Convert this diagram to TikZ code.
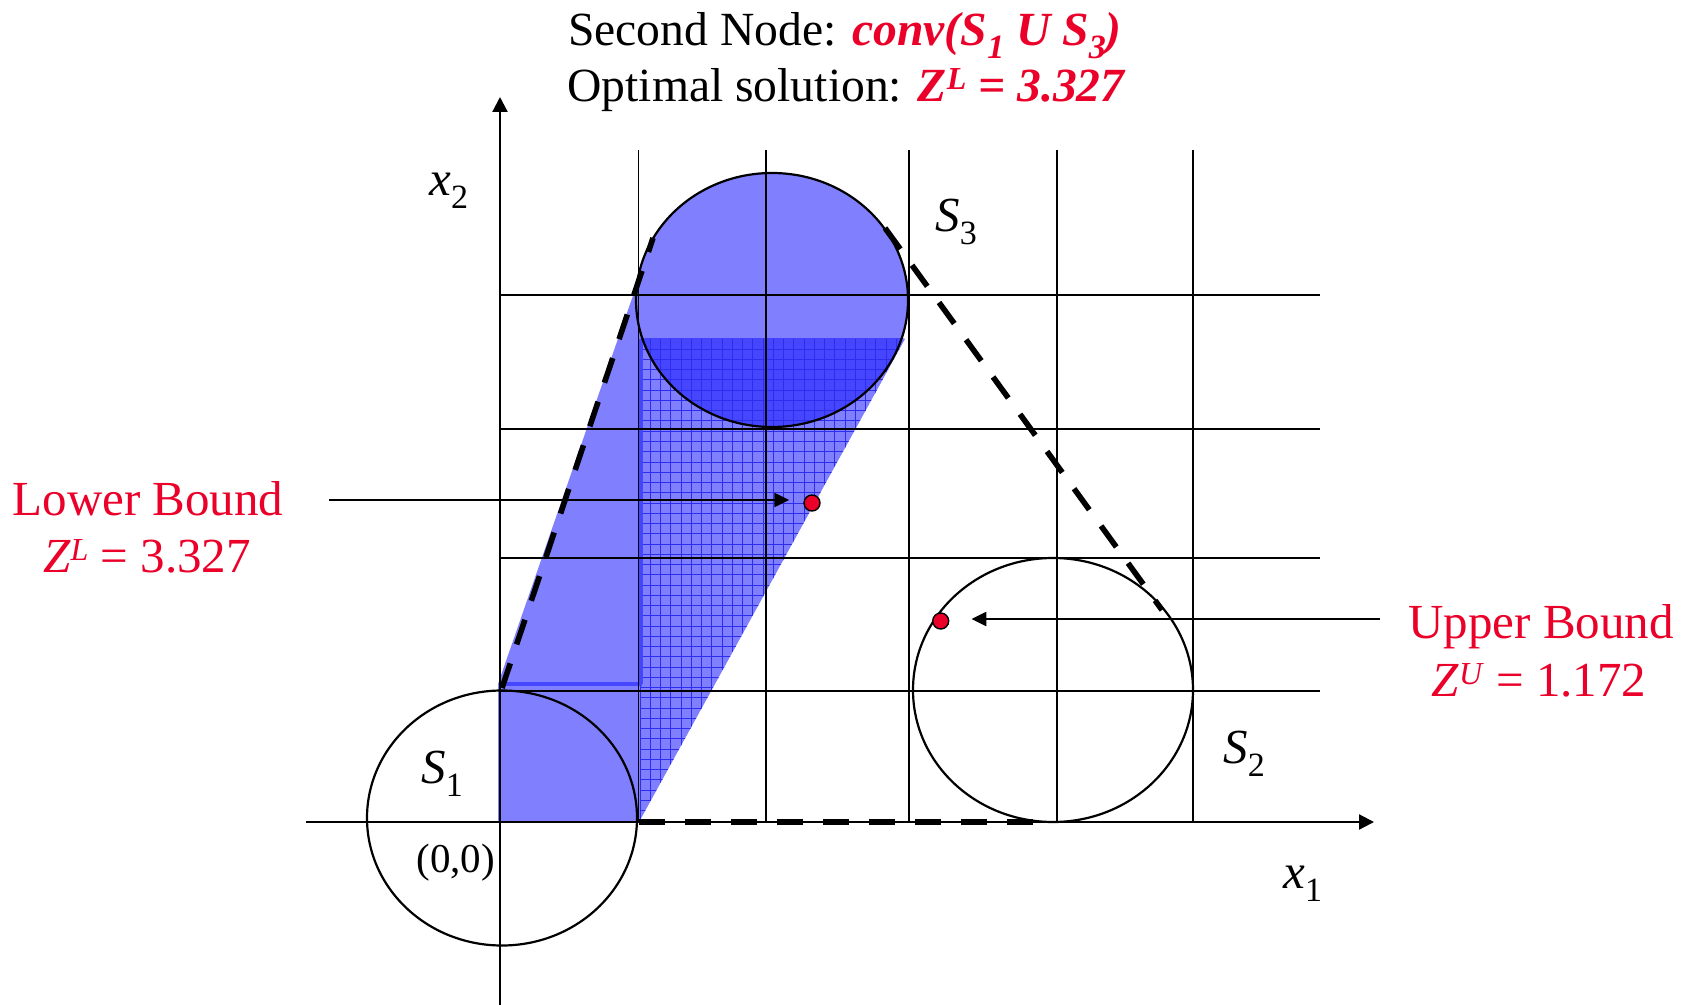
\documentclass[tikz,border=0pt]{standalone}
\usepackage{fontspec}
\setmainfont{Liberation Serif}
\usetikzlibrary{arrows.meta}
\definecolor{zred}{RGB}{234,0,41}
\definecolor{lightblu}{RGB}{128,128,255}
\definecolor{darkblu}{RGB}{70,70,255}
\definecolor{hatchblu}{RGB}{45,45,238}
\newcommand{\lsub}[1]{\raisebox{-6.5pt}{\fontsize{17}{17}\selectfont #1}}
\newcommand{\lsup}[1]{\raisebox{6pt}{\fontsize{16}{16}\selectfont #1}}
\begin{document}
\begin{tikzpicture}[x=0.5pt,y=-0.5pt,
  gridline/.style={line width=0.9pt},
  axisline/.style={line width=1.1pt,-{Triangle[length=7.5pt,width=7.5pt]}},
  thickdash/.style={line width=2.8pt,dash pattern=on 13pt off 10pt},
  ring/.style={line width=1.1pt},
  boundarrow/.style={line width=1.15pt,-{Triangle[length=7.5pt,width=7pt]}},
  zdot/.style={circle,fill=zred,draw=black,line width=0.7pt,minimum size=8pt,inner sep=0pt},
  lbl/.style={inner sep=0pt,font=\fontsize{24.5}{28}\selectfont},
  ttl/.style={inner sep=0pt,font=\fontsize{23.8}{28}\selectfont},
  small/.style={inner sep=0pt,font=\fontsize{20.5}{24}\selectfont}]
\useasboundingbox (0,0) rectangle (1686,1005);
% light blue hull
\fill[lightblu] (498,822) rectangle (640,683);
\fill[lightblu] (498,684) -- (653,238) -- (772,300) -- (905,339) -- (639,822) -- (498,822) -- cycle;
\fill[lightblu] (772,300) ellipse [x radius=136, y radius=127];
% darker overlap
\begin{scope}
  \clip (600,339) rectangle (920,440);
  \fill[darkblu] (772,300) ellipse [x radius=136, y radius=127];
\end{scope}
% hatch
\begin{scope}
  \clip (640,339) -- (905,339) -- (639,822) -- cycle;
  \foreach \i in {0,...,27} {
    \draw[hatchblu,line width=0.5pt] ({640+10.25*\i},339) -- ({640+10.25*\i},822);
  }
  \foreach \i in {0,...,48} {
    \draw[hatchblu,line width=0.5pt] (640,{339+10.25*\i}) -- (910,{339+10.25*\i});
  }
\end{scope}
\draw[darkblu,line width=2pt] (641,339) -- (641,684);
\draw[darkblu,line width=2pt] (500,684) -- (642,684);
% grid
\foreach \gx in {638.5,766,909,1057,1193} {
  \draw[gridline] (\gx,150) -- (\gx,822);
}
\foreach \gy in {295,429,558,691} {
  \draw[gridline] (500,\gy) -- (1320,\gy);
}
% axes
\coordinate (x1start) at (306,822);
\coordinate (x1end) at (1374,822);
\coordinate (x2start) at (500,1005);
\coordinate (x2end) at (500,97);
\draw[axisline] (x1start) -- (x1end);
\draw[axisline] (x2start) -- (x2end);
% circles
\draw[ring] (502,818) ellipse [x radius=135, y radius=127.5];
\draw[ring] (772,300) ellipse [x radius=136, y radius=127];
\draw[ring] (1053,690) ellipse [x radius=140, y radius=132];
% dashed hull edges
\coordinate (d1a) at (502,688);
\coordinate (d1b) at (653,238);
\coordinate (d2a) at (885,228);
\coordinate (d2b) at (1162,610);
\coordinate (d3a) at (639,822);
\coordinate (d3b) at (1038,822);
\draw[thickdash] (d1a) -- (d1b);
\draw[thickdash] (d2a) -- (d2b);
\draw[thickdash] (d3a) -- (d3b);
% bounds
\node[zdot] (lbdot) at (812,503) {};
\node[zdot] (ubdot) at (940.7,621) {};
\coordinate (lbtail) at (329,500);
\coordinate (ubtail) at (1380,619);
\draw[boundarrow] (lbtail) -- ([xshift=-7pt]lbdot.west |- lbtail);
\draw[boundarrow] (ubtail) -- ([xshift=11pt]ubdot.east |- ubtail);
% texts
\node[ttl,anchor=base] (title1) at (845,46) {Second Node: \textcolor{zred}{\bfseries\itshape conv(S\lsub{1} U S\lsub{3})}};
\node[ttl,anchor=base] (title2) at (846,102) {Optimal solution: \textcolor{zred}{\bfseries\itshape Z\lsup{L} = 3.327}};
\node[lbl,anchor=base,text=zred] (lbtext) at (148,515) {Lower Bound};
\node[lbl,anchor=base,text=zred] (lbval) at (147,572) {\textit{Z}\lsup{\textit{L}} = 3.327};
\node[lbl,anchor=base,text=zred] (ubtext) at (1541,638) {Upper Bound};
\node[lbl,anchor=base,text=zred] (ubval) at (1539,696) {\textit{Z}\lsup{\textit{U}} = 1.172};
\node[lbl,anchor=base west] (x2lab) at (429,196) {\textit{x}\lsub{2}};
\node[lbl,anchor=base west] (s3lab) at (935,232) {\textit{S}\lsub{3}};
\node[lbl,anchor=base west] (s1lab) at (421,783) {\textit{S}\lsub{1}};
\node[lbl,anchor=base west] (s2lab) at (1223,763) {\textit{S}\lsub{2}};
\node[lbl,anchor=base west] (x1lab) at (1283,888) {\textit{x}\lsub{1}};
\node[small,anchor=base west] (origin) at (416,872) {(0,0)};
\end{tikzpicture}
\end{document}
